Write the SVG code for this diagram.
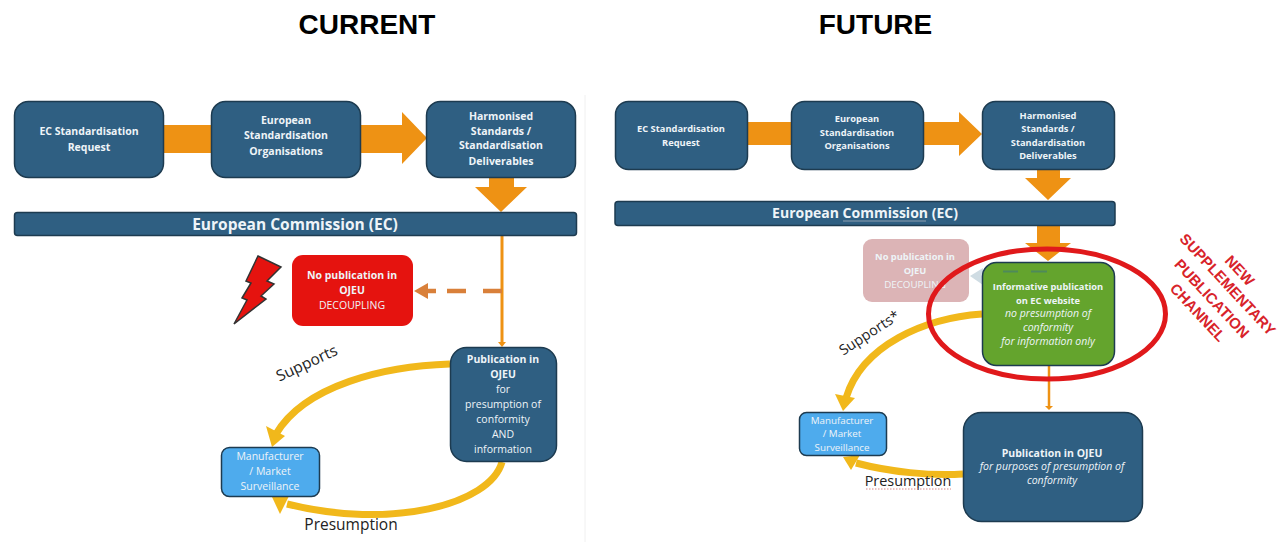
<svg xmlns="http://www.w3.org/2000/svg" width="1277" height="542" viewBox="0 0 1277 542">
<style>
text{font-family:"Open Sans","Liberation Sans",sans-serif;text-anchor:middle;fill:#eef4f8}
.b{fill:#2f5f82;stroke:#1d3b50;stroke-width:1.5}
.o{fill:#ee9214}
.t{font-size:10.5px;font-weight:700}
.r{font-size:10.5px}
.t2{font-size:9.300px;font-weight:700}
.r2{font-size:9.800px}
.i{font-size:10.500px;font-style:italic}
.y{fill:none;stroke:#f1b81b;stroke-width:7}
.ya{fill:#f1b81b}
.l{fill:#222;font-size:15.500px}
.l2{fill:#222;font-size:14.400px}
.h{fill:#000;font-family:"Liberation Sans",sans-serif;font-size:28px;font-weight:700}
.rd{fill:#d8232a;font-family:"Liberation Sans",sans-serif;font-size:15px;font-weight:700}
.m{fill:#4eabed;stroke:#1d3b50;stroke-width:1.5}
</style>
<rect width="1277" height="542" fill="#fff"/>
<line x1="585" y1="95" x2="585" y2="542" stroke="#f0f0f0" stroke-width="1"/>
<text class="h" x="367" y="34">CURRENT</text>
<text class="h" x="875.500" y="34">FUTURE</text>
<g id="connectors">
<path class="o" d="M164 125H212V153H164Z"/>
<path class="o" d="M361 125H402V112L427 138L402 164V153H361Z"/>
<path class="o" d="M489 177H514V187H527L501 212L475 187H489Z"/>
<line x1="502" y1="236" x2="502" y2="344" stroke="#ee9214" stroke-width="3"/>
<path d="M498 342H506L502 347Z" fill="#ee9214"/>
<path d="M502 291H483M466 291H447M436 291H424" fill="none" stroke="#d9803a" stroke-width="4.500"/>
<path d="M414 291L428 283V299Z" fill="#d9803a"/>
<path class="y" d="M450 364C385 366 305 385 276 434"/>
<path class="ya" d="M272 447L266 426L285 436Z"/>
<path class="y" d="M502 462C490 505 390 530 287 504"/>
<path class="ya" d="M272 497L290 494L280 514Z"/>
<path class="o" d="M747 122H791V145H747Z"/>
<path class="o" d="M923 122H959V112L982 134L959 156V145H923Z"/>
<path class="o" d="M1037 169H1060V178H1071L1048 200L1025 178H1037Z"/>
<path class="o" d="M1037 226H1060V243H1071L1048 261L1025 243H1037Z"/>
<line x1="1049" y1="366" x2="1049" y2="407" stroke="#ee9214" stroke-width="2.500"/>
<path d="M1045 406H1053L1049 410Z" fill="#ee9214"/>
<path d="M983 268L970 276L983 285Z" fill="#cfdce3"/>
<path class="y" d="M982 314C925 318 862 345 846 398"/>
<path class="ya" d="M843 411L835 394L855 398Z"/>
<path class="y" d="M963 474C930 476 890 472 856 463"/>
<path class="ya" d="M843 457L860 455L851 470Z"/>
</g>
<g id="ec-request-current"><rect class="b" x="14.500" y="101.500" width="149" height="76" rx="14"/><text class="t" x="89" y="135">EC Standardisation</text><text class="t" x="89" y="151">Request</text></g>
<g id="eso-current"><rect class="b" x="211.500" y="101.500" width="149" height="76" rx="14"/><text class="t" x="286" y="124">European</text><text class="t" x="286" y="139">Standardisation</text><text class="t" x="286" y="155">Organisations</text></g>
<g id="hs-current"><rect class="b" x="426.500" y="101.500" width="149" height="76" rx="14"/><text class="t" x="501" y="120">Harmonised</text><text class="t" x="501" y="135">Standards /</text><text class="t" x="501" y="149">Standardisation</text><text class="t" x="501" y="165">Deliverables</text></g>
<g id="ec-current"><rect class="b" x="14.500" y="212.500" width="562" height="23" rx="3"/><text x="295" y="229.500" font-size="15.500" font-weight="700">European Commission (EC)</text></g>
<g id="no-pub-current"><rect x="292" y="255" width="121" height="71" rx="11" fill="#e5130f"/><text class="t" x="352" y="279">No publication in</text><text class="t" x="352" y="294">OJEU</text><text class="r" x="352" y="309">DECOUPLING</text></g>
<path id="lightning" d="M258 256L281 267L267 281L274 284L261 296L266 299L234 324L247 300L242 298L251 283L246 281Z" fill="#e5130f" stroke="#333" stroke-width="1.500"/>
<g id="pub-current"><rect class="b" x="450.500" y="347.500" width="106" height="114" rx="16"/><text class="t" x="503" y="363">Publication in</text><text class="t" x="503" y="378">OJEU</text><text class="r" x="503" y="393">for</text><text class="r" x="503" y="408">presumption of</text><text class="r" x="503" y="423">conformity</text><text class="r" x="503" y="438">AND</text><text class="r" x="503" y="453">information</text></g>
<g id="mfr-current"><rect class="m" x="221.500" y="447.500" width="98" height="49" rx="8"/><text class="r" x="270" y="460">Manufacturer</text><text class="r" x="270" y="475">/ Market</text><text class="r" x="270" y="490">Surveillance</text></g>
<text class="l" x="309" y="368" transform="rotate(-25 309 368)">Supports</text>
<text class="l" x="351" y="530">Presumption</text>
<g id="ec-request-future"><rect class="b" x="615.500" y="101.500" width="132" height="68" rx="13"/><text class="t2" x="681" y="132">EC Standardisation</text><text class="t2" x="681" y="146">Request</text></g>
<g id="eso-future"><rect class="b" x="791.500" y="101.500" width="132" height="68" rx="13"/><text class="t2" x="857" y="122">European</text><text class="t2" x="857" y="136">Standardisation</text><text class="t2" x="857" y="149">Organisations</text></g>
<g id="hs-future"><rect class="b" x="982.500" y="101.500" width="132" height="68" rx="13"/><text class="t2" x="1048" y="119">Harmonised</text><text class="t2" x="1048" y="132">Standards /</text><text class="t2" x="1048" y="146">Standardisation</text><text class="t2" x="1048" y="159">Deliverables</text></g>
<g id="ec-future"><rect class="b" x="615" y="201.500" width="500" height="24" rx="3"/><text x="865" y="218" font-size="14" font-weight="700">European Commission (EC)</text><line x1="843" y1="221" x2="926" y2="221" stroke="#8fa0b0"/></g>
<g id="no-pub-future"><rect x="863" y="239" width="106" height="63" rx="9" fill="#dcb4b6"/><text class="t2" x="915" y="260">No publication in</text><text class="t2" x="915" y="274">OJEU</text><text class="r2" x="915" y="288">DECOUPLING</text></g>
<g id="info-pub"><rect x="982.500" y="262.500" width="132" height="103" rx="14" fill="#64a42d" stroke="#1d3b50" stroke-width="1.500"/><path d="M1003 271.500H1018M1031 271.500H1047" stroke="#4e8a5a" stroke-width="2"/><text class="t2" x="1048" y="290">Informative publication</text><text class="t2" x="1048" y="304">on EC website</text><text class="i" x="1048" y="317">no presumption of</text><text class="i" x="1048" y="331">conformity</text><text class="i" x="1048" y="345">for information only</text></g>
<ellipse id="highlight" cx="1047" cy="314" rx="118.500" ry="65" fill="none" stroke="#e0191b" stroke-width="5"/>
<g id="pub-future"><rect class="b" x="963.500" y="412.500" width="179" height="109" rx="18"/><text class="t" x="1052" y="457">Publication in OJEU</text><text class="i" x="1052" y="470">for purposes of presumption of</text><text class="i" x="1052" y="484">conformity</text></g>
<g id="mfr-future"><rect class="m" x="799.500" y="412.500" width="87" height="43" rx="7"/><text class="r2" x="842" y="424">Manufacturer</text><text class="r2" x="842" y="437">/ Market</text><text class="r2" x="842" y="451">Surveillance</text></g>
<text class="l2" x="872" y="337" transform="rotate(-33 872 337)">Supports*</text>
<text class="l2" x="908" y="486">Presumption</text>
<line x1="866" y1="489" x2="951" y2="489" stroke="#d98a8a" stroke-dasharray="1.500 1.500"/>
<g id="channel-label"><text class="rd" transform="rotate(47 1236 274)" x="1236" y="274">NEW</text><text class="rd" transform="rotate(47 1224 288)" x="1224" y="288">SUPPLEMENTARY</text><text class="rd" transform="rotate(47 1208 302)" x="1208" y="302">PUBLICATION</text><text class="rd" transform="rotate(47 1194 316)" x="1194" y="316">CHANNEL</text></g>
</svg>
